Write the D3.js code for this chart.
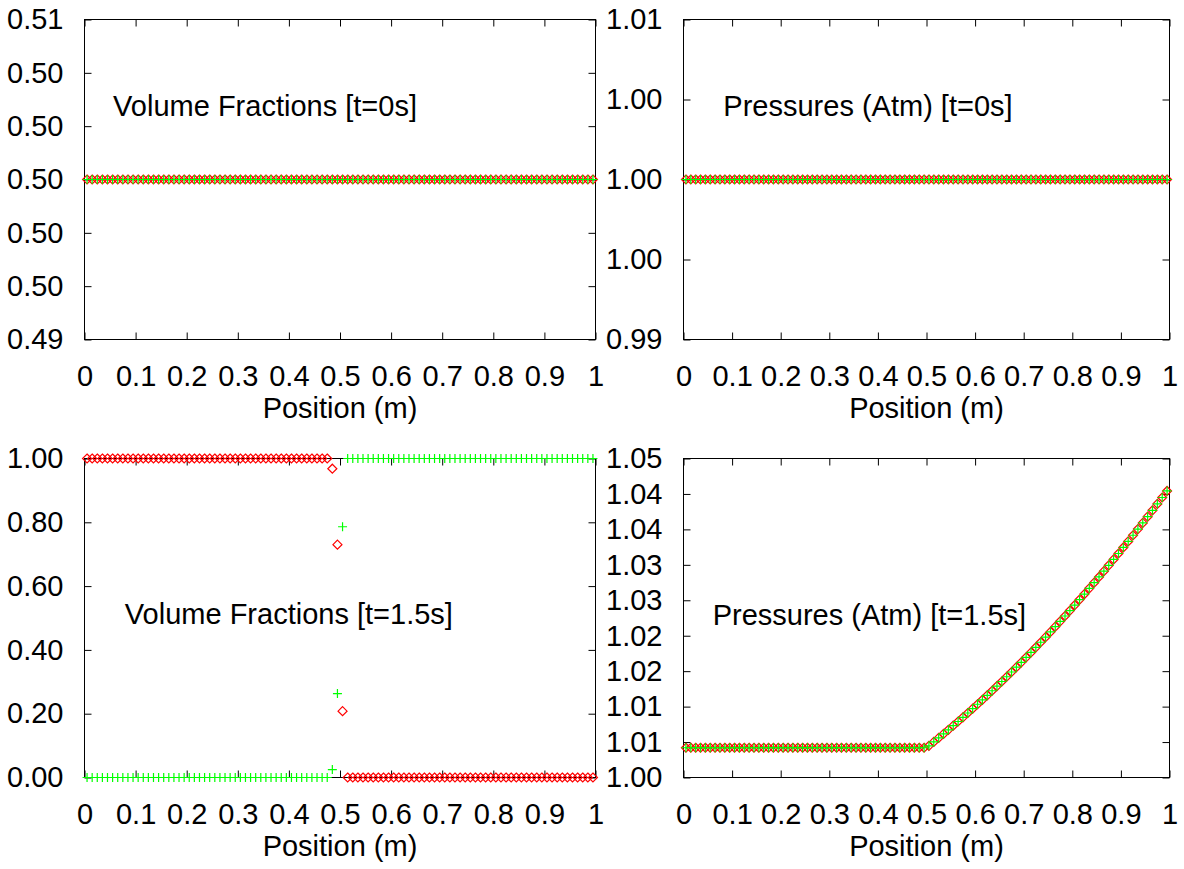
<!DOCTYPE html>
<html>
<head>
<meta charset="utf-8">
<script src="https://cdn.jsdelivr.net/npm/d3@7"></script>
<style>
  html, body { margin: 0; padding: 0; background: #fff; }
  svg { display: block; }
  text { font-family: "Liberation Sans", Arial, sans-serif; fill: #000; }
</style>
</head>
<body>
<svg id="chart" width="1184" height="869"></svg>
<script>
// ---------------- DATA ----------------
const positions = [
  0.005,0.015,0.025,0.035,0.045,0.055,0.065,0.075,0.085,0.095,
  0.105,0.115,0.125,0.135,0.145,0.155,0.165,0.175,0.185,0.195,
  0.205,0.215,0.225,0.235,0.245,0.255,0.265,0.275,0.285,0.295,
  0.305,0.315,0.325,0.335,0.345,0.355,0.365,0.375,0.385,0.395,
  0.405,0.415,0.425,0.435,0.445,0.455,0.465,0.475,0.485,0.495,
  0.505,0.515,0.525,0.535,0.545,0.555,0.565,0.575,0.585,0.595,
  0.605,0.615,0.625,0.635,0.645,0.655,0.665,0.675,0.685,0.695,
  0.705,0.715,0.725,0.735,0.745,0.755,0.765,0.775,0.785,0.795,
  0.805,0.815,0.825,0.835,0.845,0.855,0.865,0.875,0.885,0.895,
  0.905,0.915,0.925,0.935,0.945,0.955,0.965,0.975,0.985,0.995
];

const volRed0 = [
  0.5,0.5,0.5,0.5,0.5,0.5,0.5,0.5,0.5,0.5,
  0.5,0.5,0.5,0.5,0.5,0.5,0.5,0.5,0.5,0.5,
  0.5,0.5,0.5,0.5,0.5,0.5,0.5,0.5,0.5,0.5,
  0.5,0.5,0.5,0.5,0.5,0.5,0.5,0.5,0.5,0.5,
  0.5,0.5,0.5,0.5,0.5,0.5,0.5,0.5,0.5,0.5,
  0.5,0.5,0.5,0.5,0.5,0.5,0.5,0.5,0.5,0.5,
  0.5,0.5,0.5,0.5,0.5,0.5,0.5,0.5,0.5,0.5,
  0.5,0.5,0.5,0.5,0.5,0.5,0.5,0.5,0.5,0.5,
  0.5,0.5,0.5,0.5,0.5,0.5,0.5,0.5,0.5,0.5,
  0.5,0.5,0.5,0.5,0.5,0.5,0.5,0.5,0.5,0.5
];
const volGreen0 = [
  0.5,0.5,0.5,0.5,0.5,0.5,0.5,0.5,0.5,0.5,
  0.5,0.5,0.5,0.5,0.5,0.5,0.5,0.5,0.5,0.5,
  0.5,0.5,0.5,0.5,0.5,0.5,0.5,0.5,0.5,0.5,
  0.5,0.5,0.5,0.5,0.5,0.5,0.5,0.5,0.5,0.5,
  0.5,0.5,0.5,0.5,0.5,0.5,0.5,0.5,0.5,0.5,
  0.5,0.5,0.5,0.5,0.5,0.5,0.5,0.5,0.5,0.5,
  0.5,0.5,0.5,0.5,0.5,0.5,0.5,0.5,0.5,0.5,
  0.5,0.5,0.5,0.5,0.5,0.5,0.5,0.5,0.5,0.5,
  0.5,0.5,0.5,0.5,0.5,0.5,0.5,0.5,0.5,0.5,
  0.5,0.5,0.5,0.5,0.5,0.5,0.5,0.5,0.5,0.5
];

const presRed0 = [
  1,1,1,1,1,1,1,1,1,1,
  1,1,1,1,1,1,1,1,1,1,
  1,1,1,1,1,1,1,1,1,1,
  1,1,1,1,1,1,1,1,1,1,
  1,1,1,1,1,1,1,1,1,1,
  1,1,1,1,1,1,1,1,1,1,
  1,1,1,1,1,1,1,1,1,1,
  1,1,1,1,1,1,1,1,1,1,
  1,1,1,1,1,1,1,1,1,1,
  1,1,1,1,1,1,1,1,1,1
];
const presGreen0 = [
  1,1,1,1,1,1,1,1,1,1,
  1,1,1,1,1,1,1,1,1,1,
  1,1,1,1,1,1,1,1,1,1,
  1,1,1,1,1,1,1,1,1,1,
  1,1,1,1,1,1,1,1,1,1,
  1,1,1,1,1,1,1,1,1,1,
  1,1,1,1,1,1,1,1,1,1,
  1,1,1,1,1,1,1,1,1,1,
  1,1,1,1,1,1,1,1,1,1,
  1,1,1,1,1,1,1,1,1,1
];

const volRed15 = [
  1,1,1,1,1,1,1,1,1,1,
  1,1,1,1,1,1,1,1,1,1,
  1,1,1,1,1,1,1,1,1,1,
  1,1,1,1,1,1,1,1,1,1,
  1,1,1,1,1,1,1,1,0.968,0.730,
  0.208,0,0,0,0,0,0,0,0,0,
  0,0,0,0,0,0,0,0,0,0,
  0,0,0,0,0,0,0,0,0,0,
  0,0,0,0,0,0,0,0,0,0,
  0,0,0,0,0,0,0,0,0,0
];
const volGreen15 = [
  0,0,0,0,0,0,0,0,0,0,
  0,0,0,0,0,0,0,0,0,0,
  0,0,0,0,0,0,0,0,0,0,
  0,0,0,0,0,0,0,0,0,0,
  0,0,0,0,0,0,0,0,0.025,0.263,
  0.786,1,1,1,1,1,1,1,1,1,
  1,1,1,1,1,1,1,1,1,1,
  1,1,1,1,1,1,1,1,1,1,
  1,1,1,1,1,1,1,1,1,1,
  1,1,1,1,1,1,1,1,1,1
];

const presRed15 = [
  1.0042,1.0042,1.0042,1.0042,1.0042,1.0042,1.0042,1.0042,1.0042,1.0042,
  1.0042,1.0042,1.0042,1.0042,1.0042,1.0042,1.0042,1.0042,1.0042,1.0042,
  1.0042,1.0042,1.0042,1.0042,1.0042,1.0042,1.0042,1.0042,1.0042,1.0042,
  1.0042,1.0042,1.0042,1.0042,1.0042,1.0042,1.0042,1.0042,1.0042,1.0042,
  1.0042,1.0042,1.0042,1.0042,1.0042,1.0042,1.0042,1.0042,1.0042,1.0042,
  1.00447,1.00502,1.00558,1.00615,1.00672,1.00731,1.00790,1.00849,1.00910,1.00971,
  1.01033,1.01096,1.01159,1.01224,1.01289,1.01354,1.01421,1.01488,1.01556,1.01625,
  1.01695,1.01765,1.01836,1.01908,1.01980,1.02054,1.02128,1.02203,1.02278,1.02355,
  1.02432,1.02510,1.02588,1.02668,1.02748,1.02829,1.02911,1.02993,1.03076,1.03160,
  1.03245,1.03330,1.03417,1.03504,1.03591,1.03680,1.03769,1.03859,1.03950,1.04042
];
const presGreen15 = [
  1.0042,1.0042,1.0042,1.0042,1.0042,1.0042,1.0042,1.0042,1.0042,1.0042,
  1.0042,1.0042,1.0042,1.0042,1.0042,1.0042,1.0042,1.0042,1.0042,1.0042,
  1.0042,1.0042,1.0042,1.0042,1.0042,1.0042,1.0042,1.0042,1.0042,1.0042,
  1.0042,1.0042,1.0042,1.0042,1.0042,1.0042,1.0042,1.0042,1.0042,1.0042,
  1.0042,1.0042,1.0042,1.0042,1.0042,1.0042,1.0042,1.0042,1.0042,1.0042,
  1.00447,1.00502,1.00558,1.00615,1.00672,1.00731,1.00790,1.00849,1.00910,1.00971,
  1.01033,1.01096,1.01159,1.01224,1.01289,1.01354,1.01421,1.01488,1.01556,1.01625,
  1.01695,1.01765,1.01836,1.01908,1.01980,1.02054,1.02128,1.02203,1.02278,1.02355,
  1.02432,1.02510,1.02588,1.02668,1.02748,1.02829,1.02911,1.02993,1.03076,1.03160,
  1.03245,1.03330,1.03417,1.03504,1.03591,1.03680,1.03769,1.03859,1.03950,1.04042
];

// tick values and labels
const xTickValues = [0,0.1,0.2,0.3,0.4,0.5,0.6,0.7,0.8,0.9,1];
const xTickLabels = ["0","0.1","0.2","0.3","0.4","0.5","0.6","0.7","0.8","0.9","1"];

const yTicksVol0  = [0.494,0.496,0.498,0.500,0.502,0.504,0.506];
const yLabelsVol0 = ["0.49","0.50","0.50","0.50","0.50","0.50","0.51"];

const yTicksPres0  = [0.995,0.9975,1.0,1.0025,1.005];
const yLabelsPres0 = ["0.99","1.00","1.00","1.00","1.01"];

const yTicksVol15  = [0,0.2,0.4,0.6,0.8,1.0];
const yLabelsVol15 = ["0.00","0.20","0.40","0.60","0.80","1.00"];

const yTicksPres15  = [1.000,1.005,1.010,1.015,1.020,1.025,1.030,1.035,1.040,1.045];
const yLabelsPres15 = ["1.00","1.01","1.01","1.02","1.02","1.03","1.03","1.04","1.04","1.05"];

const panelTitles = [
  "Volume Fractions [t=0s]",
  "Pressures (Atm) [t=0s]",
  "Volume Fractions [t=1.5s]",
  "Pressures (Atm) [t=1.5s]"
];
const xAxisTitle = "Position (m)";

// ---------------- LAYOUT ----------------
const FONT = 29;
const TICK = 7;
const panels = [
  { box: {x0: 84.5, x1: 595.5, y0: 19.5, y1: 339.5}, yDomain: [0.494, 0.506], yTicks: yTicksVol0, yLabels: yLabelsVol0,
    red: volRed0, green: volGreen0, title: panelTitles[0], tf: [0.056, 0.30] },
  { box: {x0: 683.5, x1: 1169.5, y0: 19.5, y1: 339.5}, yDomain: [0.995, 1.005], yTicks: yTicksPres0, yLabels: yLabelsPres0,
    red: presRed0, green: presGreen0, title: panelTitles[1], tf: [0.082, 0.30] },
  { box: {x0: 84.5, x1: 595.5, y0: 458.5, y1: 777.5}, yDomain: [0, 1], yTicks: yTicksVol15, yLabels: yLabelsVol15,
    red: volRed15, green: volGreen15, title: panelTitles[2], tf: [0.079, 0.52] },
  { box: {x0: 683.5, x1: 1169.5, y0: 458.5, y1: 777.5}, yDomain: [1.0, 1.045], yTicks: yTicksPres15, yLabels: yLabelsPres15,
    red: presRed15, green: presGreen15, title: panelTitles[3], tf: [0.06, 0.523] }
];

const svg = d3.select("#chart");

const diamond = "M0,-4.5L4.5,0L0,4.5L-4.5,0Z";
const plus = "M-4.5,0H4.5M0,-4.5V4.5";

panels.forEach(p => {
  const b = p.box;
  const x = d3.scaleLinear().domain([0, 1]).range([b.x0, b.x1]);
  const y = d3.scaleLinear().domain(p.yDomain).range([b.y1, b.y0]);
  const g = svg.append("g");

  // frame
  g.append("rect")
    .attr("x", b.x0).attr("y", b.y0)
    .attr("width", b.x1 - b.x0).attr("height", b.y1 - b.y0)
    .attr("fill", "none").attr("stroke", "#000").attr("stroke-width", 1);

  const styleAxis = sel => {
    sel.select(".domain").remove();
    sel.selectAll(".tick line").attr("stroke", "#000").attr("stroke-width", 1);
    sel.selectAll(".tick text").attr("font-size", FONT).attr("font-family", "Liberation Sans, Arial, sans-serif").attr("fill", "#000");
  };

  const xb = g.append("g").attr("transform", `translate(0,${b.y1})`)
    .call(d3.axisBottom(x).tickValues(xTickValues)
      .tickFormat((d, i) => xTickLabels[i]).tickSizeInner(-TICK).tickSizeOuter(0).tickPadding(TICK + 19));
  styleAxis(xb);
  xb.selectAll(".tick text").attr("dy", "0.71em");

  const xt = g.append("g").attr("transform", `translate(0,${b.y0})`)
    .call(d3.axisTop(x).tickValues(xTickValues).tickFormat("").tickSizeInner(-TICK).tickSizeOuter(0));
  styleAxis(xt);

  const yl = g.append("g").attr("transform", `translate(${b.x0},0)`)
    .call(d3.axisLeft(y).tickValues(p.yTicks)
      .tickFormat((d, i) => p.yLabels[i]).tickSizeInner(-TICK).tickSizeOuter(0).tickPadding(TICK + 14));
  styleAxis(yl);

  const yr = g.append("g").attr("transform", `translate(${b.x1},0)`)
    .call(d3.axisRight(y).tickValues(p.yTicks).tickFormat("").tickSizeInner(-TICK).tickSizeOuter(0));
  styleAxis(yr);

  // axis title
  g.append("text")
    .attr("x", (b.x0 + b.x1) / 2).attr("y", b.y1 + 78)
    .attr("text-anchor", "middle").attr("font-size", FONT)
    .text(xAxisTitle);

  // panel title
  g.append("text")
    .attr("x", b.x0 + p.tf[0] * (b.x1 - b.x0))
    .attr("y", b.y0 + p.tf[1] * (b.y1 - b.y0))
    .attr("font-size", FONT)
    .text(p.title);

  // markers: red diamonds then green pluses
  g.append("g").selectAll("path").data(p.red).join("path")
    .attr("transform", (d, i) => `translate(${x(positions[i])},${y(d)})`)
    .attr("d", diamond).attr("fill", "none").attr("stroke", "#ff0000").attr("stroke-width", 1.2);
  g.append("g").selectAll("path").data(p.green).join("path")
    .attr("transform", (d, i) => `translate(${x(positions[i])},${y(d)})`)
    .attr("d", plus).attr("fill", "none").attr("stroke", "#00ff00").attr("stroke-width", 1.2);
});
</script>
</body>
</html>
